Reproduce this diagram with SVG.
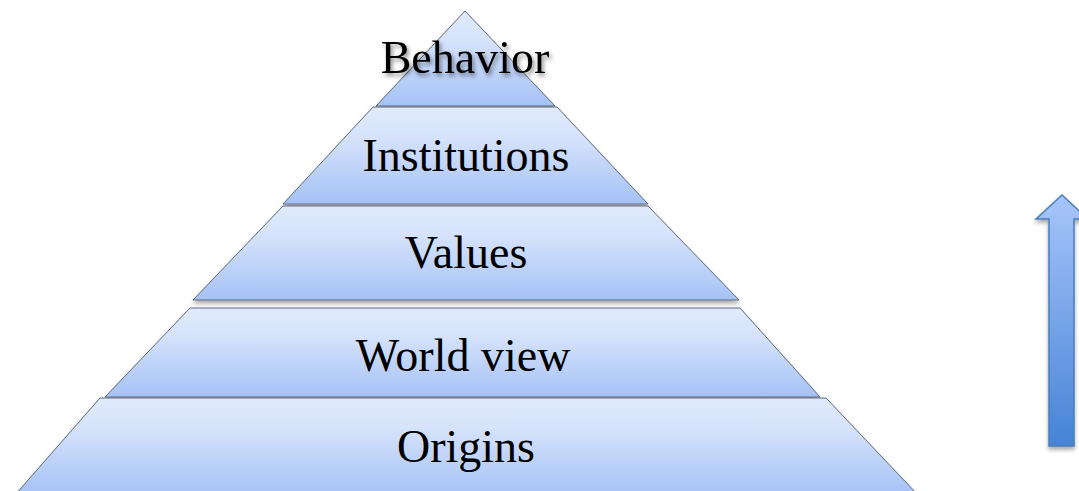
<svg xmlns="http://www.w3.org/2000/svg" width="1079" height="491" viewBox="0 0 1079 491">
<defs>
<linearGradient id="lg" x1="0" y1="0" x2="0" y2="1">
<stop offset="0" stop-color="#e0eafc"/>
<stop offset="0.3" stop-color="#d6e3fb"/>
<stop offset="1" stop-color="#a5c2f6"/>
</linearGradient>
<linearGradient id="ag" x1="0" y1="0" x2="0" y2="1">
<stop offset="0" stop-color="#a7c5fa"/>
<stop offset="1" stop-color="#4683d6"/>
</linearGradient>
<filter id="sh" x="-10%" y="-10%" width="120%" height="130%">
<feDropShadow dx="0" dy="3" stdDeviation="2" flood-color="#000" flood-opacity="0.35"/>
</filter>
<filter id="tsh" x="-10%" y="-20%" width="130%" height="150%">
<feDropShadow dx="2" dy="3" stdDeviation="2" flood-color="#000" flood-opacity="0.45"/>
</filter>
</defs>
<style>
.layer{fill:url(#lg);stroke:#5f6b7c;stroke-width:1}
.lbl{font-family:"Liberation Serif","DejaVu Serif",serif;font-size:46px;fill:#000;text-anchor:middle}
</style>
<rect width="1079" height="491" fill="#fff"/>
<g id="behavior">
<polygon class="layer" filter="url(#sh)" points="465,11 555,106 376,106"/>
<text class="lbl" x="465" y="73" filter="url(#tsh)">Behavior</text>
</g>
<g id="institutions">
<polygon class="layer" filter="url(#sh)" points="373,107 557,107 648,204 283,204"/>
<text class="lbl" x="466" y="171">Institutions</text>
</g>
<g id="values">
<polygon class="layer" filter="url(#sh)" points="283,206 648,206 739,300 193,300"/>
<text class="lbl" x="466" y="268">Values</text>
</g>
<g id="worldview">
<polygon class="layer" filter="url(#sh)" points="190,308 740,308 820,397 105,397"/>
<text class="lbl" x="463" y="371">World view</text>
</g>
<g id="origins">
<polygon class="layer" filter="url(#sh)" points="100,398 826,398 918,495 15,495"/>
<text class="lbl" x="466" y="462">Origins</text>
</g>
<g id="connectors">
<polygon filter="url(#sh)" points="1062,195 1088,219 1074,219 1074,446 1049,446 1049,219 1036,219" fill="url(#ag)" stroke="#4a7ebb" stroke-width="1.5"/>
</g>
</svg>
